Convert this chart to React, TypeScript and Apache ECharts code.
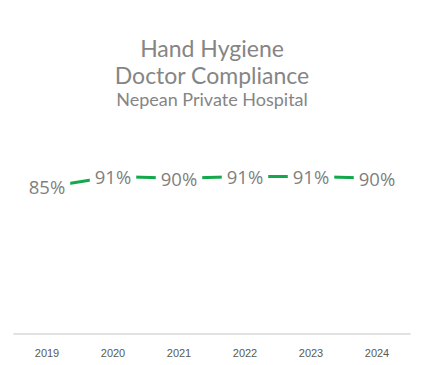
import React, { useEffect, useRef } from "react";
import * as echarts from "echarts";

const years = ["2019", "2020", "2021", "2022", "2023", "2024"];
const compliance = [85, 91, 90, 91, 91, 90];

export default function App() {
  const ref = useRef<HTMLDivElement>(null);
  useEffect(() => {
    const chart = echarts.init(ref.current!, null, { renderer: "svg" });
    const titleStyle = { color: "#858585", fontSize: 23, fontWeight: "normal", fontFamily: "Lato", lineHeight: 24 };
    chart.setOption({
      animation: false,
      backgroundColor: "#ffffff",
      title: [
        { text: "Hand Hygiene", left: "center", top: 36, padding: 0, textStyle: titleStyle },
        { text: "Doctor Compliance", left: "center", top: 63, padding: 0, textStyle: titleStyle },
        {
          text: "Nepean Private Hospital",
          left: "center",
          top: 89,
          padding: 0,
          textStyle: { color: "#858585", fontSize: 18, fontWeight: "normal", fontFamily: "Lato", lineHeight: 20 },
        },
      ],
      grid: { left: 14, right: 14, top: 161, bottom: 31 },
      xAxis: {
        type: "category",
        data: years,
        boundaryGap: true,
        axisLine: { lineStyle: { color: "#d9d9d9", width: 1.5 } },
        axisTick: { show: false },
        axisLabel: { color: "#595959", fontSize: 11, fontFamily: "Liberation Sans", margin: 13 },
      },
      yAxis: {
        type: "value",
        min: 0,
        max: 100,
        show: false,
        splitLine: { show: false },
      },
      series: [
        {
          type: "line",
          data: compliance,
          symbol: "circle",
          symbolSize: 2,
          showSymbol: true,
          itemStyle: { color: "rgba(255,255,255,0)" },
          lineStyle: { color: "#14a84c", width: 3 },
          label: {
            show: true,
            position: "inside",
            formatter: "{c}%",
            color: "#7f7f7f",
            fontSize: 18.5,
            fontFamily: "Open Sans",
            backgroundColor: "#ffffff",
            padding: [0, 5, 0, 5],
          },
          labelLayout: { hideOverlap: false },
        },
      ],
    });
    return () => chart.dispose();
  }, []);
  return <div ref={ref} style={{ position: "fixed", left: 0, top: 0, width: 424, height: 365 }} />;
}
